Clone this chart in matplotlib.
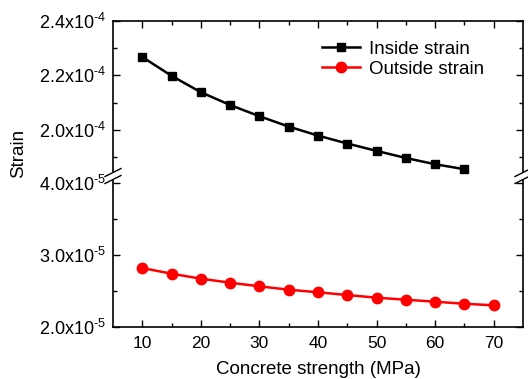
import matplotlib
matplotlib.use("Agg")
import matplotlib.pyplot as plt
from matplotlib.ticker import FixedLocator
from matplotlib.patches import Polygon
from matplotlib.lines import Line2D

plt.rcParams['font.family'] = ['Liberation Sans', 'DejaVu Sans']
plt.rcParams['mathtext.fontset'] = 'custom'
plt.rcParams['mathtext.rm'] = 'Liberation Sans'
plt.rcParams['mathtext.it'] = 'Liberation Sans'
plt.rcParams['mathtext.default'] = 'regular'

strength_inside = [10, 15, 20, 25, 30, 35, 40, 45, 50, 55, 60, 65]
inside_strain = [2.267e-4, 2.198e-4, 2.138e-4, 2.091e-4, 2.050e-4, 2.012e-4,
                 1.979e-4, 1.950e-4, 1.923e-4, 1.897e-4, 1.874e-4, 1.856e-4]
strength_outside = [10, 15, 20, 25, 30, 35, 40, 45, 50, 55, 60, 65, 70]
outside_strain = [2.815e-5, 2.736e-5, 2.667e-5, 2.611e-5, 2.561e-5, 2.514e-5,
                  2.478e-5, 2.440e-5, 2.403e-5, 2.375e-5, 2.347e-5, 2.319e-5, 2.297e-5]
upper_ticks = [2.0e-4, 2.2e-4, 2.4e-4]
upper_labels = ["2.0x10$^{\\text{-4}}$", "2.2x10$^{\\text{-4}}$", "2.4x10$^{\\text{-4}}$"]
lower_ticks = [2.0e-5, 3.0e-5, 4.0e-5]
lower_labels = ["2.0x10$^{\\text{-5}}$", "3.0x10$^{\\text{-5}}$", "4.0x10$^{\\text{-5}}$"]
x_ticks = [10, 20, 30, 40, 50, 60, 70]

W, H = 528, 379
fig = plt.figure(figsize=(W / 100, H / 100), dpi=100)

left, right = 113 / W, 523 / W
y_top, y_brk, y_bot = 20.7, 176, 326.7
ax_up = fig.add_axes([left, 1 - y_brk / H, right - left, (y_brk - y_top) / H])
ax_lo = fig.add_axes([left, 1 - y_bot / H, right - left, (y_bot - y_brk) / H])

for ax in (ax_up, ax_lo):
    ax.set_xlim(5, 75)
    ax.tick_params(which='both', direction='in', top=True, right=True,
                   width=1, colors='black')
    ax.tick_params(axis='y', labelsize=13, pad=5)
    ax.tick_params(axis='x', labelsize=12.5, pad=7)
    ax.tick_params(which='major', length=5)
    ax.tick_params(which='minor', length=3)
    for s in ax.spines.values():
        s.set_linewidth(1.2)

ax_up.set_ylim(1.831e-4, 2.4e-4)
ax_lo.set_ylim(2.0e-5, 4.093e-5)

ax_up.spines['bottom'].set_visible(False)
ax_up.tick_params(which='both', bottom=False, labelbottom=False)
ax_lo.spines['top'].set_visible(False)
ax_lo.tick_params(which='both', top=False)

ax_up.yaxis.set_major_locator(FixedLocator(upper_ticks))
ax_up.set_yticklabels(upper_labels)
ax_up.yaxis.set_minor_locator(FixedLocator([1.9e-4, 2.1e-4, 2.3e-4]))
ax_lo.yaxis.set_major_locator(FixedLocator(lower_ticks))
ax_lo.set_yticklabels(lower_labels)
ax_lo.yaxis.set_minor_locator(FixedLocator([2.5e-5, 3.5e-5]))

for ax in (ax_up, ax_lo):
    ax.xaxis.set_major_locator(FixedLocator(x_ticks))
    ax.xaxis.set_minor_locator(FixedLocator([15, 25, 35, 45, 55, 65]))
ax_lo.set_xticklabels([str(v) for v in x_ticks])

l1, = ax_up.plot(strength_inside, inside_strain, color='black', lw=1.8,
                 marker='s', markersize=6, label='Inside strain')
l2, = ax_lo.plot(strength_outside, outside_strain, color='red', lw=1.8,
                 marker='o', markersize=7.5, label='Outside strain')

ax_lo.set_xlabel('Concrete strength (MPa)', fontsize=13.5, labelpad=7)
fig.text(19 / W, 1 - 153 / H, 'Strain', rotation=90, fontsize=13.5,
         ha='center', va='center')

fs = 13.5
fpx = fs * 100 / 72
leg = fig.legend(handles=[l1, l2], loc='upper left',
                 bbox_to_anchor=(321.7 / W, 1 - 40.5 / H),
                 frameon=False, fontsize=fs, handlelength=38 / fpx,
                 handletextpad=9 / fpx, labelspacing=0.16,
                 borderaxespad=0, borderpad=0)

# axis break marks
def brk(xc):
    yc = 1 - y_brk / H
    dx, dy = 8 / W, 4 / H
    sx, sy = 2.5 / W, 1.25 / H
    gap = 3.5 / H
    poly = Polygon([(xc - sx, yc - sy - gap), (xc + sx, yc + sy - gap),
                    (xc + sx, yc + sy + gap), (xc - sx, yc - sy + gap)],
                   closed=True, transform=fig.transFigure, facecolor='white',
                   edgecolor='none', zorder=10)
    fig.patches.append(poly)
    for g in (-gap, gap):
        fig.lines.append(Line2D([xc - dx, xc + dx], [yc - dy + g, yc + dy + g],
                                transform=fig.transFigure, color='black', lw=1,
                                zorder=11))

brk(left)
brk(right)

fig.savefig('out.png', dpi=100)
